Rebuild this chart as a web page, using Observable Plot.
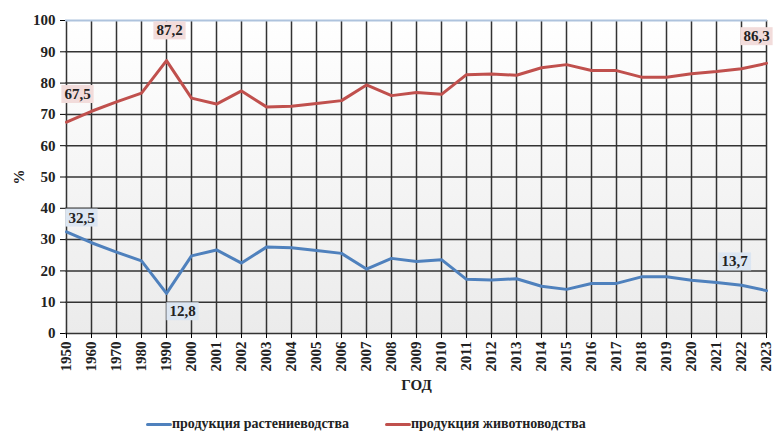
<!DOCTYPE html>
<html><head><meta charset="utf-8">
<script src="https://cdn.jsdelivr.net/npm/d3@7"></script>
<script src="https://cdn.jsdelivr.net/npm/@observablehq/plot@0.6"></script>
<style>
body{margin:0;background:#fff;font-family:"Liberation Serif","Times New Roman",serif;}
#wrap{position:relative;width:773px;height:432px;overflow:hidden;}
#legend{position:absolute;left:0;top:405px;width:773px;height:27px;font-weight:bold;font-size:14px;color:#222;font-family:"Liberation Serif","Times New Roman",serif;}
.lg{position:absolute;top:11px;display:flex;align-items:center;white-space:nowrap;}
.sw{display:inline-block;width:26px;height:3px;border-radius:2px;}
svg text{font-family:"Liberation Serif","Times New Roman",serif !important;}
</style>
</head><body>
<div id="wrap"><div id="chart"></div><div id="legend"></div></div>
<script>
const years = ["1950","1960","1970","1980","1990","2000","2001","2002","2003","2004","2005","2006","2007","2008","2009","2010","2011","2012","2013","2014","2015","2016","2017","2018","2019","2020","2021","2022","2023"];
const crops = [32.5,29,26,23.2,12.8,24.8,26.7,22.5,27.6,27.4,26.5,25.6,20.6,24,23,23.6,17.3,17.1,17.5,15.1,14.1,16,16,18.1,18.1,17,16.3,15.4,13.7];
const livestock = [67.5,71,74,76.8,87.2,75.2,73.3,77.5,72.4,72.6,73.5,74.4,79.4,76,77,76.4,82.7,82.9,82.5,84.9,85.9,84,84,81.9,81.9,83,83.7,84.6,86.3];
const yTicks = [0,10,20,30,40,50,60,70,80,90,100];
const seriesNames = ["продукция растениеводства","продукция животноводства"];
const colors = ["#4f81bd","#c0504d"];
const boxFills = ["#dce6f2","#f2dcdb"];

const cropRows = years.map((y,i)=>({year:y,value:crops[i]}));
const liveRows = years.map((y,i)=>({year:y,value:livestock[i]}));
const fmt = v => String(v).replace(".", ",");
const pick = (rows, yr) => rows.filter(d => d.year === yr);
const FF = "'Liberation Serif','Times New Roman',serif";

const defs = () => {
  const g = d3.create("svg:defs");
  const lg = g.append("linearGradient").attr("id","bg").attr("x1",0).attr("y1",0).attr("x2",0).attr("y2",1);
  lg.append("stop").attr("offset","0%").attr("stop-color","#ffffff");
  lg.append("stop").attr("offset","100%").attr("stop-color","#ebebeb");
  return g.node();
};

const ann = (rows, yr, si, dx, dy) => Plot.text(pick(rows, yr), {x:"year", y:"value", text: d => fmt(d.value), dx, dy, fill:"#222", fontSize:15, fontWeight:"bold", className:"ann ann"+si});

const chart = Plot.plot({
  width: 773, height: 405,
  marginLeft: 65, marginRight: 6, marginTop: 20, marginBottom: 72,
  style: {fontFamily: FF, background:"transparent"},
  x: {type:"point", domain: years, padding: 0},
  y: {domain:[0,100]},
  marks: [
    defs,
    Plot.frame({fill:"url(#bg)", stroke:null}),
    Plot.ruleX(years, {stroke:"#333", strokeWidth:1.5}),
    Plot.ruleY(yTicks.filter(t=>t<100), {stroke:"#333", strokeWidth:1.5}),
    Plot.ruleY([100], {stroke:"#aec3dd", strokeWidth:2}),
    Plot.axisY({ticks: yTicks, tickSize:5, tickPadding:5, fontSize:15, fontWeight:"bold", fill:"#222", label:"%", labelAnchor:"center", labelOffset:52, labelArrow:"none"}),
    Plot.axisX({tickRotate:-90, tickSize:5, tickPadding:3, fontSize:15, fontWeight:"bold", fill:"#222", label:"ГОД", labelAnchor:"center", labelOffset:56, labelArrow:"none"}),
    Plot.line(cropRows, {x:"year", y:"value", stroke:colors[0], strokeWidth:3}),
    Plot.line(liveRows, {x:"year", y:"value", stroke:colors[1], strokeWidth:3}),
    ann(liveRows, "1950", 1, 11, -28),
    ann(liveRows, "1990", 1, 3, -30),
    ann(liveRows, "2023", 1, -10, -27),
    ann(cropRows, "1950", 0, 15, -14),
    ann(cropRows, "1990", 0, 16, 18),
    ann(cropRows, "2023", 0, -32, -29)
  ]
});
document.getElementById("chart").appendChild(chart);

d3.select(chart).selectAll("text").style("font-family", FF);
d3.select(chart).selectAll("[aria-label='y-axis label'] text, [aria-label='x-axis label'] text")
  .style("font-size","15px").style("font-weight","bold").attr("fill","#222");

// label boxes + leader lines
const sx = chart.scale("x"), sy = chart.scale("y");
[[liveRows,1],[cropRows,0]].forEach(([rows, si]) => {
  d3.select(chart).selectAll("g.ann"+si+" text").each(function(){
    const txt = this;
    const bb = txt.getBBox();
    const tr = txt.getAttribute("transform") || "";
    const m = /translate\(([-\d.]+),([-\d.]+)\)/.exec(tr);
    const tx = m ? +m[1] : 0, ty = m ? +m[2] : 0;
    const label = txt.textContent;
    const d = rows.find(r => fmt(r.value) === label);
    const px = sx.apply(d.year), py = sy.apply(d.value);
    const x0 = tx + bb.x - 3, y0 = ty + bb.y - 1, w = bb.width + 6, h = bb.height + 2;
    const parent = txt.parentNode;
    const cx = Math.max(x0, Math.min(px, x0 + w)), cy = Math.max(y0, Math.min(py, y0 + h));
    const ln = document.createElementNS("http://www.w3.org/2000/svg","line");
    ln.setAttribute("x1", cx); ln.setAttribute("y1", cy); ln.setAttribute("x2", px); ln.setAttribute("y2", py);
    ln.setAttribute("stroke","#a6a6a6"); ln.setAttribute("stroke-width","1");
    const rc = document.createElementNS("http://www.w3.org/2000/svg","rect");
    rc.setAttribute("x", x0); rc.setAttribute("y", y0); rc.setAttribute("width", w); rc.setAttribute("height", h);
    rc.setAttribute("fill", boxFills[si]);
    parent.insertBefore(ln, txt);
    parent.insertBefore(rc, txt);
  });
});

// legend
const lgd = document.getElementById("legend");
const lefts = [146, 385];
seriesNames.forEach((n,i) => {
  const e = document.createElement("div");
  e.className = "lg"; e.style.left = lefts[i] + "px";
  e.innerHTML = `<span class="sw" style="background:${colors[i]}"></span><span>${n}</span>`;
  lgd.appendChild(e);
});
</script>
</body></html>
